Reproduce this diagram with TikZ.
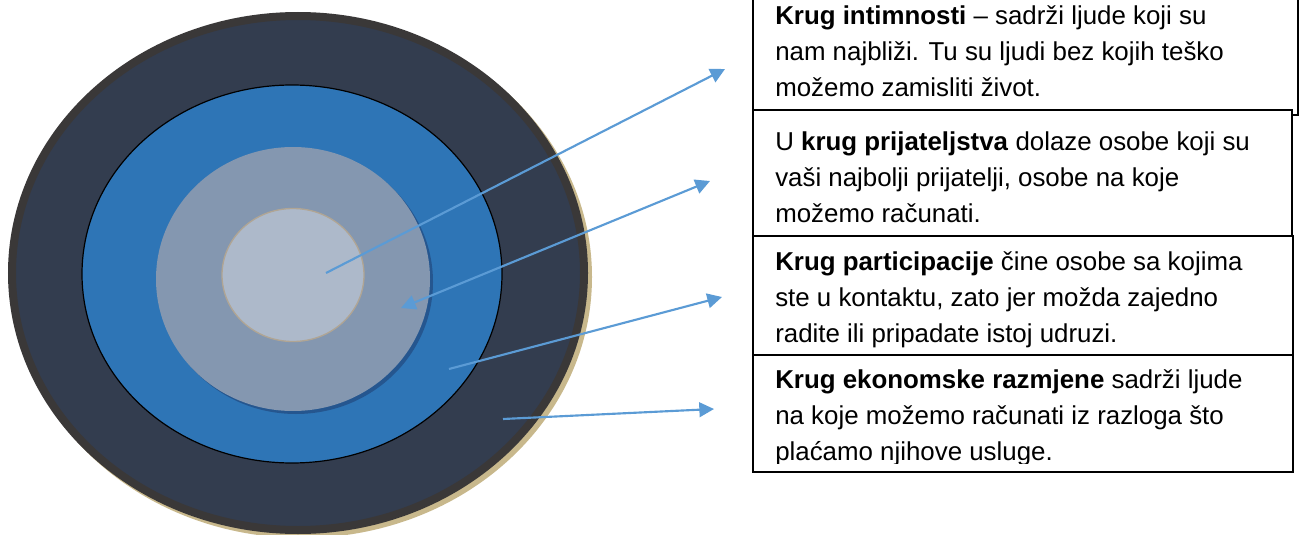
\documentclass[tikz,border=0pt]{standalone}
\usepackage{fontspec}
\setmainfont{Liberation Sans}
\usetikzlibrary{arrows.meta}
\definecolor{ringdark}{HTML}{333D4F}
\definecolor{ringborder}{HTML}{3A3838}
\definecolor{tanshadow}{HTML}{C8B88C}
\definecolor{ringblue}{HTML}{2E75B6}
\definecolor{grayshadow}{HTML}{25568F}
\definecolor{ringgray}{HTML}{8497B0}
\definecolor{ringlight}{HTML}{ADB9CA}
\definecolor{innerborder}{HTML}{B0A594}
\definecolor{arrowblue}{HTML}{5B9BD5}
\begin{document}
\begin{tikzpicture}[x=0.75pt,y=-0.75pt,
  conn/.style={draw=arrowblue, line width=1.6pt, -{Triangle[length=11pt,width=11pt]}},
  conn2/.style={draw=arrowblue, line width=1.6pt, {Triangle[length=11pt,width=11pt]}-{Triangle[length=11pt,width=11pt]}},
  infobox/.style={draw=black, line width=1.2pt, fill=white},
  infotext/.style={anchor=base west, inner sep=0pt, align=left, font=\fontsize{19.4}{27}\selectfont}]
\useasboundingbox (0,0) rectangle (1300,535);
% circles
\fill[tanshadow] (302,277) ellipse [x radius=290, y radius=261];
\filldraw[fill=ringdark, draw=ringborder, line width=6pt] (298,273) ellipse [x radius=286, y radius=257];
\filldraw[fill=ringblue, draw=black, line width=0.9pt] (292,274) ellipse [x radius=210, y radius=189];
\fill[grayshadow] (296,282) ellipse [x radius=137, y radius=132];
\fill[ringgray] (293,279) ellipse [x radius=137, y radius=132];
\filldraw[fill=ringlight, draw=innerborder, line width=1pt] (293,275) ellipse [x radius=71, y radius=66.5];
% arrow endpoints
\coordinate (c1) at (326,273);
\coordinate (c2) at (401,308);
\coordinate (c3) at (449,369);
\coordinate (c4) at (503,419);
\coordinate (t1) at (725,69);
\coordinate (t2) at (710,181);
\coordinate (t3) at (722,297);
\coordinate (t4) at (714,409);
\draw[conn] (c1) -- (t1);
\draw[conn2] (c2) -- (t2);
\draw[conn] (c3) -- (t3);
\draw[conn] (c4) -- (t4);
% boxes
\draw[infobox] (753,-10) rectangle (1298,115);
\node[infotext] (txt1) at (775,97) {\textbf{Krug intimnosti} – sadrži ljude koji su\\nam najbliži. Tu su ljudi bez kojih teško\\možemo zamisliti život.};
\draw[infobox] (753,110) rectangle (1292,236);
\node[infotext] (txt2) at (775,222) {U \textbf{krug prijateljstva} dolaze osobe koji su\\vaši najbolji prijatelji, osobe na koje\\možemo računati.};
\draw[infobox] (753,236) rectangle (1293,355);
\node[infotext] (txt3) at (775,342) {\textbf{Krug participacije} čine osobe sa kojima\\ste u kontaktu, zato jer možda zajedno\\radite ili pripadate istoj udruzi.};
\draw[infobox] (753,355) rectangle (1293,472);
\begin{scope}
\clip (753,355) rectangle (1293,463);
\node[infotext] (txt4) at (775,460) {\textbf{Krug ekonomske razmjene} sadrži ljude\\na koje možemo računati iz razloga što\\plaćamo njihove usluge.};
\end{scope}
\end{tikzpicture}
\end{document}
